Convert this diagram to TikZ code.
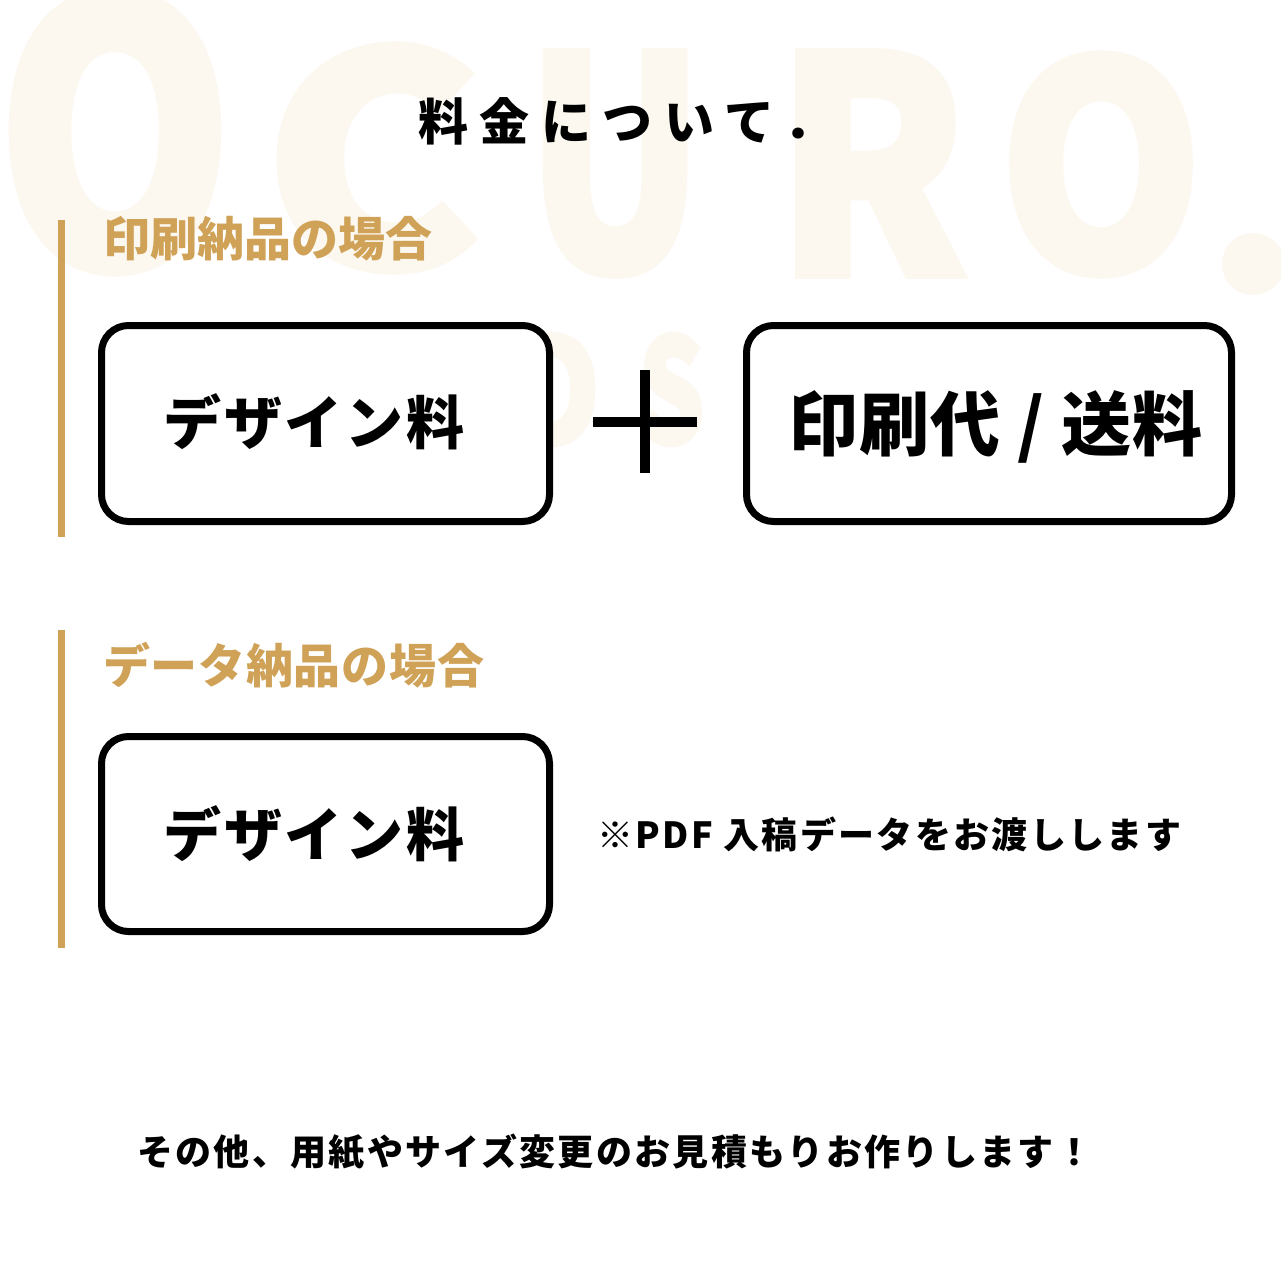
\documentclass[tikz,border=0pt]{standalone}
\usepackage{fontspec}
\setmainfont{Noto Sans CJK JP}
\definecolor{gold}{RGB}{207,162,87}
\definecolor{wm}{RGB}{252,247,239}
\tikzset{
  wmletter/.style={inner sep=0pt, text=wm, font=\bfseries\addfontfeatures{FakeBold=2.5}},
  pricebox/.style={draw=black, line width=7pt, rounded corners=27pt, fill=white, inner sep=0pt},
  goldbar/.style={draw=gold, line width=7pt},
  heading/.style={inner sep=0pt, anchor=west, text=gold, font=\bfseries\fontsize{47}{56}\selectfont},
  boxtext/.style={inner sep=0pt, anchor=west, font=\bfseries\fontsize{58}{66}\selectfont\addfontfeatures{LetterSpace=5}},
  plain/.style={inner sep=0pt, anchor=west},
}
\begin{document}
\begin{tikzpicture}[x=1pt,y=-1pt]
\useasboundingbox (0,0) rectangle (1281,1281);
\fill[white] (0,0) rectangle (1281,1281);
% watermark
\node[wmletter] (wmO1) at (115,132) {\resizebox*{236pt}{280pt}{O}};
\node[wmletter] (wmC) at (372,158) {\resizebox*{216pt}{226pt}{C}};
\node[wmletter] (wmU) at (615,163.5) {\resizebox*{176pt}{223pt}{U}};
\node[wmletter] (wmR) at (871.5,163.5) {\resizebox*{193pt}{223pt}{R}};
\node[wmletter] (wmO2) at (1101,164.5) {\resizebox*{204pt}{221pt}{O}};
\fill[wm] (1253,264) circle (31);
\node[wmletter] (wmD) at (556,389.5) {\resizebox*{88pt}{112pt}{D}};
\node[wmletter] (wmS) at (671.5,389.5) {\resizebox*{66pt}{112pt}{S}};
% title
\node[plain, font=\bfseries\fontsize{50}{60}\selectfont\addfontfeatures{LetterSpace=23}] (title) at (418,121) {料金について．};
% section 1
\draw[goldbar] (61.5,220) coordinate (bar1top) -- (61.5,537) coordinate (bar1bot);
\node[heading] (head1) at (103,239) {印刷納品の場合};
\node[pricebox, minimum width=448pt, minimum height=196pt] (box1) at (325.5,423.5) {};
\node[boxtext] (t1) at (163,422) {デザイン料};
\draw[line width=10pt] (645,370) coordinate (pv1) -- (645,473) coordinate (pv2);
\draw[line width=10pt] (593,422) coordinate (ph1) -- (697,422) coordinate (ph2);
\node[pricebox, minimum width=485pt, minimum height=196pt] (box2) at (989,423.5) {};
\node[plain, font=\bfseries\fontsize{70}{80}\selectfont\addfontfeatures{LetterSpace=1.5}] (t2) at (788,427) {印刷代 / 送料};
% section 2
\draw[goldbar] (61.5,630) coordinate (bar2top) -- (61.5,948) coordinate (bar2bot);
\node[heading, font=\bfseries\fontsize{47}{56}\selectfont\addfontfeatures{LetterSpace=1.5}] (head2) at (103,665) {データ納品の場合};
\node[pricebox, minimum width=448pt, minimum height=195pt] (box3) at (325.5,834) {};
\node[boxtext] (t3) at (163,834) {デザイン料};
\node[plain, font=\bfseries\fontsize{36}{44}\selectfont\addfontfeatures{LetterSpace=6.5}] (note) at (597,834) {※PDF 入稿データをお渡しします};
% footer
\node[plain, font=\bfseries\fontsize{36}{44}\selectfont\addfontfeatures{LetterSpace=6.5}] (footer) at (137,1152) {その他、用紙やサイズ変更のお見積もりお作りします！};
\end{tikzpicture}
\end{document}
